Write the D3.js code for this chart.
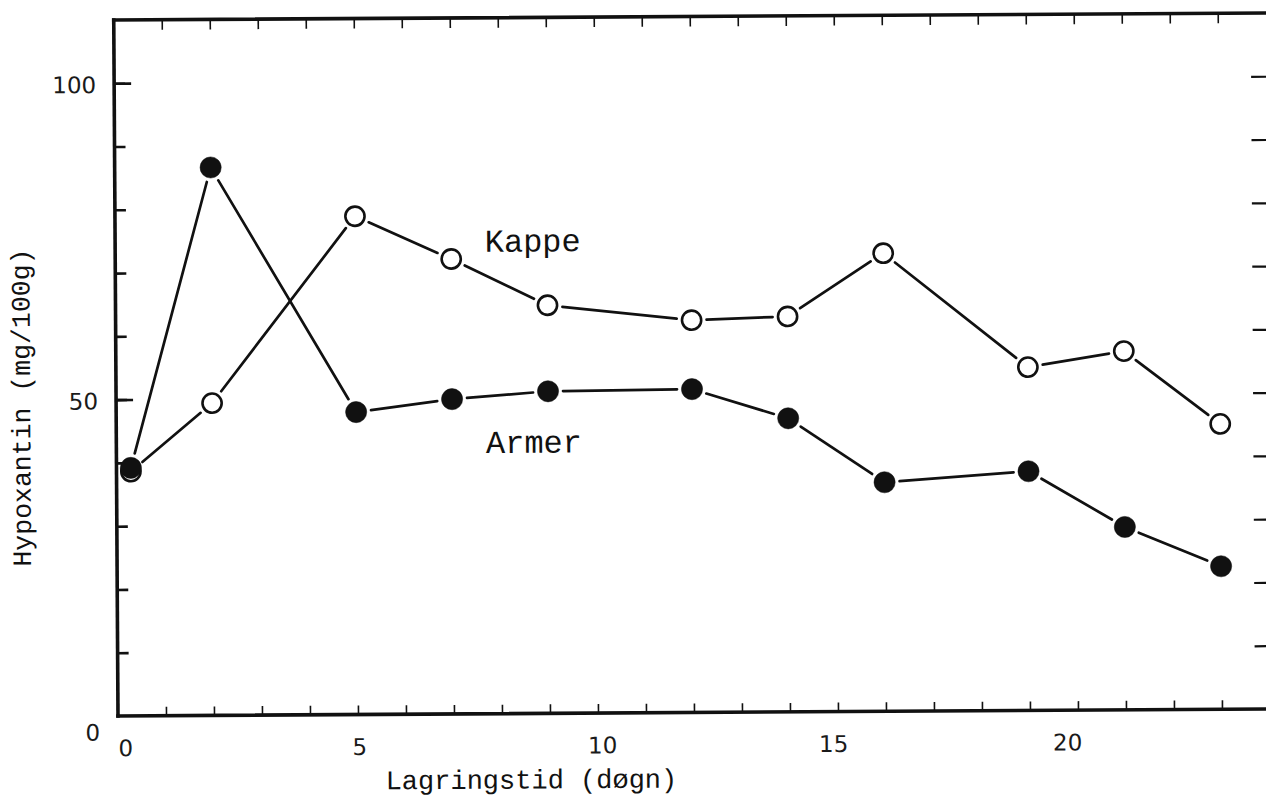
<!DOCTYPE html>
<html>
<head>
<meta charset="utf-8">
<script src="https://cdn.jsdelivr.net/npm/d3@7"></script>
<style>
  html, body { margin: 0; padding: 0; background: #fff; }
  svg { display: block; }
</style>
</head>
<body>
<svg id="chart" width="1266" height="798"></svg>
<script>
// Storage time (days) and hypoxanthine content (mg/100g)
const days  = [0.3, 2, 5, 7, 9, 12, 14, 16, 19, 21, 23];
const armer = [39.2, 86.6, 47.8, 49.75, 50.9, 51.1, 46.4, 36.2, 37.8, 28.9, 22.6];
const kappe = [38.6, 49.35, 78.75, 71.9, 64.5, 62.0, 62.5, 72.4, 54.25, 56.7, 45.1];

const xLabelTicks = [0, 5, 10, 15, 20];
const yLabelTicks = [0, 50, 100];
const xMinorTicks = d3.range(1, 24);
const yMinorTicks = d3.range(10, 110, 10);
const yMajorTicks = [50, 100];

const xTitle = "Lagringstid (døgn)";
const yTitle = "Hypoxantin (mg/100g)";

const ink = "#111";
const x = d3.scaleLinear().domain([0, 24]).range([118, 1270]);
const y = d3.scaleLinear().domain([0, 110]).range([716, 20]);

const svg = d3.select("#chart");
// the printed figure sits very slightly tilted on the page
const g = svg.append("g").attr("transform", `rotate(-0.35, ${x(0) - 1}, ${y(0)})`);

const sans = "'DejaVu Sans', 'Liberation Sans', sans-serif";
const mono = "'Liberation Mono', 'Courier New', monospace";

// ---- ticks ----
function styleAxis(sel, width) {
  sel.select(".domain").remove();
  sel.selectAll(".tick line").attr("stroke", ink).attr("stroke-width", width);
}
g.append("g").attr("transform", `translate(0,${y(0)})`)
  .call(d3.axisBottom(x).tickValues(xMinorTicks).tickSize(-9).tickFormat(""))
  .call(s => styleAxis(s, 1.6));
g.append("g").attr("transform", `translate(0,${y(110)})`)
  .call(d3.axisTop(x).tickValues(xMinorTicks).tickSize(-10).tickFormat(""))
  .call(s => styleAxis(s, 1.6));
g.append("g").attr("transform", `translate(${x(0)},0)`)
  .call(d3.axisLeft(y).tickValues(yMinorTicks).tickSize(-11).tickFormat(""))
  .call(s => styleAxis(s, 2.6));
g.append("g").attr("transform", `translate(${x(0)},0)`)
  .call(d3.axisLeft(y).tickValues(yMajorTicks).tickSize(-17).tickFormat(""))
  .call(s => styleAxis(s, 2.6));
g.append("g").attr("transform", `translate(${x(24)},0)`)
  .call(d3.axisRight(y).tickValues(yMinorTicks).tickSize(-15).tickFormat(""))
  .call(s => styleAxis(s, 2.2));

// ---- frame ----
const frame = g.append("g").attr("stroke", ink).attr("stroke-width", 3.6).attr("stroke-linecap", "square");
frame.append("line").attr("x1", x(0)).attr("x2", x(0)).attr("y1", y(0)).attr("y2", y(110));
frame.append("line").attr("x1", x(0)).attr("x2", x(24) + 30).attr("y1", y(110)).attr("y2", y(110));
frame.append("line").attr("x1", x(0)).attr("x2", x(24) + 30).attr("y1", y(0)).attr("y2", y(0));

// ---- tick labels ----
const xNudge = {0: 7, 5: 1, 10: 4, 15: -5, 20: -11};
g.append("g").attr("transform", `translate(0,${y(0)})`)
  .call(d3.axisBottom(x).tickValues(xLabelTicks).tickSize(0).tickPadding(24).tickFormat(d3.format("d")))
  .call(s => {
    s.select(".domain").remove();
    s.selectAll("text").attr("dx", d => xNudge[d] || 0)
      .attr("fill", "#1a1a1a").style("font-family", sans).style("font-size", "23px").style("font-weight", 400);
  });
g.append("g").attr("transform", `translate(${x(0)},0)`)
  .call(d3.axisLeft(y).tickValues(yLabelTicks).tickSize(0).tickPadding(18).tickFormat(d3.format("d")))
  .call(s => {
    s.select(".domain").remove();
    s.selectAll("text").attr("dy", d => d === 0 ? "1.05em" : "0.4em")
      .attr("fill", "#1a1a1a").style("font-family", sans).style("font-size", "23px").style("font-weight", 400);
  });

// ---- axis titles ----
g.append("text").text(xTitle)
  .attr("x", 531).attr("y", 791)
  .attr("text-anchor", "middle").attr("fill", ink)
  .style("font-family", mono).style("font-size", "27px");
g.append("text").text(yTitle)
  .attr("transform", "translate(32,407) rotate(-90)")
  .attr("text-anchor", "middle").attr("fill", ink)
  .style("font-family", mono).style("font-size", "26.5px");

// ---- series ----
const series = [
  {name: "Kappe", values: kappe, filled: false, label: {day: 7.7, value: 73.0}},
  {name: "Armer", values: armer, filled: true,  label: {day: 7.7, value: 41.2}}
];

const gap = 15; // connecting lines stop short of the markers
series.forEach(s => {
  const pts = days.map((d, i) => [x(d), y(s.values[i])]);
  const segs = d3.pairs(pts).map(([a, b]) => {
    const dx = b[0] - a[0], dy = b[1] - a[1];
    const len = Math.hypot(dx, dy);
    const ux = dx / len, uy = dy / len;
    return [a[0] + ux * gap, a[1] + uy * gap, b[0] - ux * gap, b[1] - uy * gap];
  });
  g.append("g").selectAll("line").data(segs).join("line")
    .attr("x1", d => d[0]).attr("y1", d => d[1])
    .attr("x2", d => d[2]).attr("y2", d => d[3])
    .attr("stroke", ink).attr("stroke-width", 2.7).attr("stroke-linecap", "round");
});

series.forEach(s => {
  g.append("g").selectAll("circle").data(days).join("circle")
    .attr("cx", d => x(d))
    .attr("cy", (d, i) => y(s.values[i]))
    .attr("r", s.filled ? 10.6 : 9.6)
    .attr("fill", s.filled ? ink : "#fff")
    .attr("stroke", ink)
    .attr("stroke-width", s.filled ? 0.5 : 2.6);
  g.append("text").text(s.name)
    .attr("x", x(s.label.day)).attr("y", y(s.label.value))
    .attr("fill", ink)
    .style("font-family", mono).style("font-size", "32px");
});
</script>
</body>
</html>
